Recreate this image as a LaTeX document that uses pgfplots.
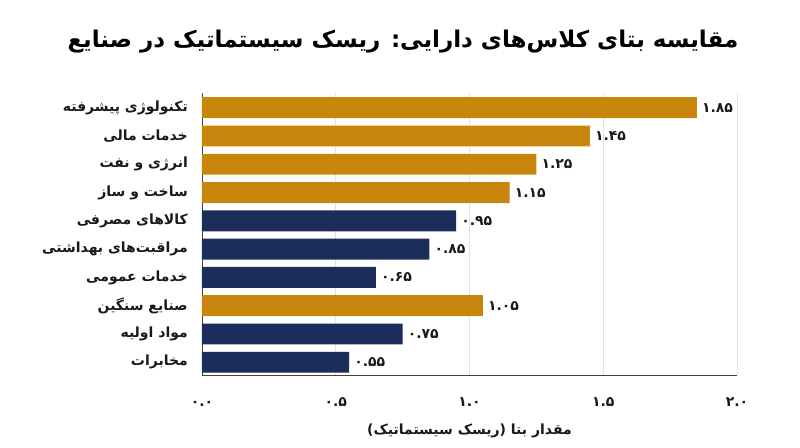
\documentclass[border=0pt]{standalone}
\usepackage{fontspec}
\setmainfont{DejaVu Sans}
\newfontfamily\arabicfont[Script=Arabic]{DejaVu Sans}
\TeXXeTstate=1
\usepackage{pgfplots}
\pgfplotsset{compat=1.18}
\definecolor{gold}{HTML}{C8860D}
\definecolor{navy}{HTML}{1C2C5B}
\definecolor{gridc}{HTML}{E2E2E2}
\begin{document}
\begin{tikzpicture}
\begin{axis}[
  scale only axis, width=535pt, height=282pt,
  xbar, bar width=0.74, bar shift=0pt,
  xmin=0, xmax=2,
  ymin=-0.52, ymax=9.45, y dir=reverse,
  ytick={0,1,2,3,4,5,6,7,8,9},
  yticklabels={
    {\beginR تکنولوژی پیشرفته\endR},
    {\beginR خدمات مالی\endR},
    {\beginR انرژی و نفت\endR},
    {\beginR ساخت و ساز\endR},
    {\beginR کالاهای مصرفی\endR},
    {\beginR مراقبت^^^^200cهای بهداشتی\endR},
    {\beginR خدمات عمومی\endR},
    {\beginR صنایع سنگین\endR},
    {\beginR مواد اولیه\endR},
    {\beginR مخابرات\endR}},
  xtick={0,0.5,1,1.5,2},
  xticklabels={۰.۰,۰.۵,۱.۰,۱.۵,۲.۰},
  axis x line*=bottom, axis y line*=left,
  axis line style={draw=black!75, line width=0.8pt},
  xmajorgrids, major grid style={draw=gridc, line width=0.8pt},
  major tick length=0pt,
  tick label style={inner sep=0pt},
  yticklabel style={font=\arabicfont\bfseries\fontsize{14}{16}\selectfont, anchor=east, xshift=-14pt, text=black!90},
  xticklabel style={font=\bfseries\fontsize{14}{16}\selectfont, anchor=base, yshift=-31pt, text=black!90},
  point meta=explicit symbolic,
  nodes near coords,
  nodes near coords style={font=\bfseries\fontsize{14}{16}\selectfont, anchor=west, inner sep=0pt, xshift=5pt, text=black!90},
  clip=false,
]
\addplot[draw=none, fill=gold] coordinates {
  (1.85,0) [۱.۸۵]
  (1.45,1) [۱.۴۵]
  (1.25,2) [۱.۲۵]
  (1.15,3) [۱.۱۵]
  (1.05,7) [۱.۰۵]
};
\addplot[draw=none, fill=navy] coordinates {
  (0.95,4) [۰.۹۵]
  (0.85,5) [۰.۸۵]
  (0.65,6) [۰.۶۵]
  (0.75,8) [۰.۷۵]
  (0.55,9) [۰.۵۵]
};
\end{axis}
\node[font=\arabicfont\bfseries\fontsize{23}{27}\selectfont, text=black] at (201pt,333pt)
  {\beginR مقایسه بتای کلاس^^^^200cهای دارایی: ریسک سیستماتیک در صنایع\endR};
\node[font=\arabicfont\bfseries\fontsize{14}{16}\selectfont, text=black!90] at (267.5pt,-56pt)
  {\beginR مقدار بتا (ریسک سیستماتیک)\endR};
\pgfresetboundingbox
\path[use as bounding box] (-202pt,-72pt) rectangle (598pt,375pt);
\end{tikzpicture}
\end{document}
